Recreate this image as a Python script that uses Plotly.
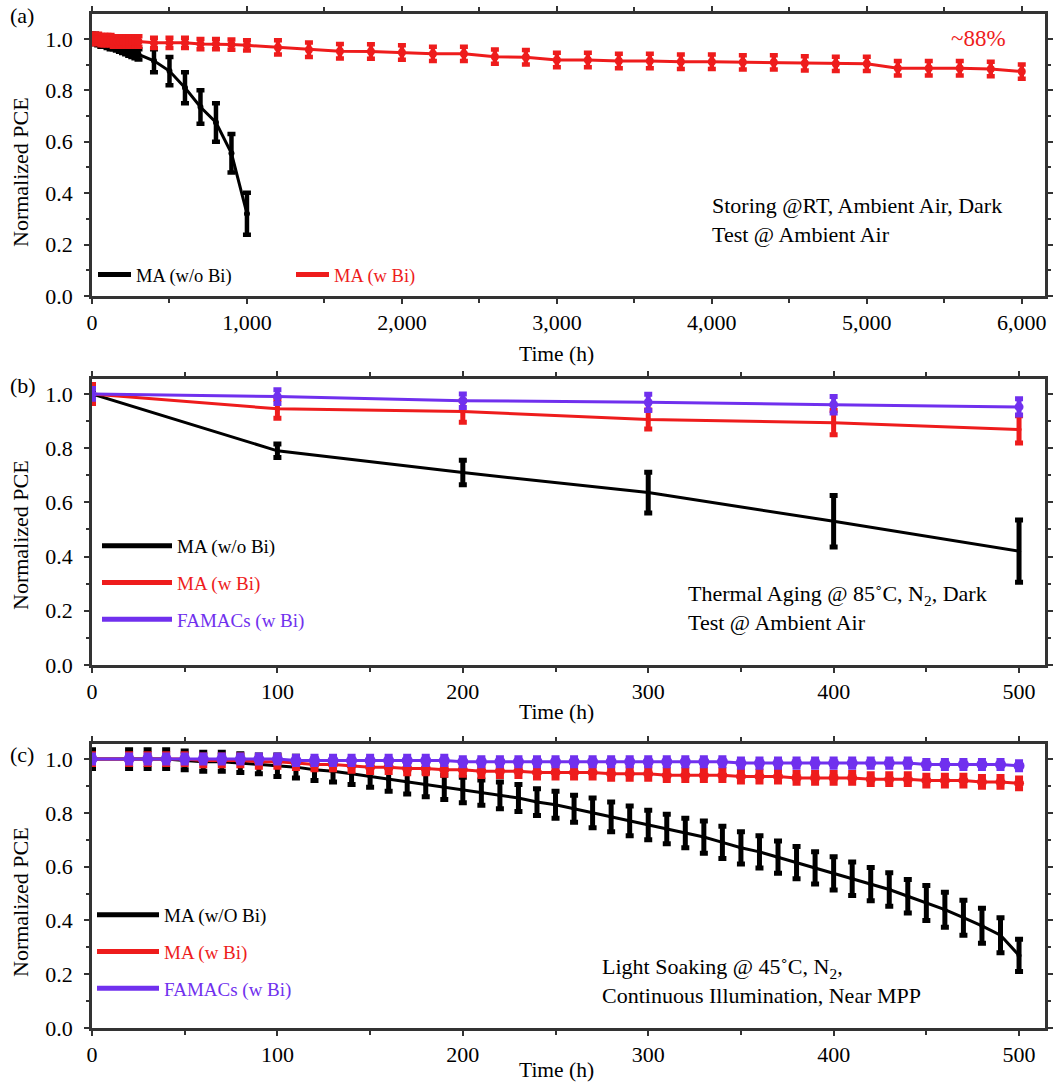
import plotly.graph_objects as go

# ---------------- data ----------------
# (a) Storing @RT, ambient air, dark
A_X_NOBI = [0, 20, 40, 60, 80, 100, 120, 140, 160, 180, 200, 220, 240, 260, 280, 300,
            400, 500, 600, 700, 800, 900, 1000]
A_Y_NOBI = [1.0, 1.0, 0.995, 0.99, 0.99, 0.985, 0.98, 0.98, 0.975, 0.97, 0.965, 0.96, 0.955, 0.95, 0.945, 0.94,
            0.915, 0.875, 0.81, 0.735, 0.675, 0.555, 0.32]
A_E_NOBI = [0.02, 0.02, 0.02, 0.02, 0.02, 0.02, 0.02, 0.02, 0.02, 0.02, 0.02, 0.02, 0.02, 0.02, 0.02, 0.02,
            0.045, 0.055, 0.06, 0.065, 0.075, 0.075, 0.082]

A_X_BI = [0, 20, 40, 60, 80, 100, 120, 140, 160, 180, 200, 220, 240, 260, 280, 300,
          400, 500, 600, 700, 800, 900, 1000,
          1200, 1400, 1600, 1800, 2000, 2200, 2400, 2600, 2800, 3000, 3200, 3400, 3600, 3800, 4000,
          4200, 4400, 4600, 4800, 5000, 5200, 5400, 5600, 5800, 6000]
A_Y_BI = [1.0, 1.0, 1.0, 0.995, 0.995, 0.995, 0.995, 0.99, 0.99, 0.99, 0.99, 0.99, 0.99, 0.99, 0.99, 0.99,
          0.985, 0.985, 0.985, 0.98, 0.98, 0.978, 0.975,
          0.967, 0.958, 0.952, 0.951, 0.947, 0.942, 0.942, 0.931, 0.929, 0.918, 0.918, 0.914, 0.914, 0.911, 0.911,
          0.909, 0.909, 0.905, 0.903, 0.903, 0.886, 0.886, 0.886, 0.883, 0.873]
A_E_BI = [0.02] * 23 + [0.028] * 25

# (b) Thermal aging @ 85 C
B_X = [0, 100, 200, 300, 400, 500]
B_Y_NOBI = [1.0, 0.79, 0.71, 0.636, 0.53, 0.42]
B_E_NOBI = [0.01, 0.025, 0.045, 0.075, 0.095, 0.115]
B_Y_BI = [1.0, 0.945, 0.935, 0.906, 0.894, 0.869]
B_E_BI = [0.035, 0.035, 0.04, 0.035, 0.045, 0.05]
B_Y_FA = [1.0, 0.99, 0.975, 0.969, 0.96, 0.952]
B_E_FA = [0.02, 0.025, 0.025, 0.03, 0.03, 0.03]

# (c) Light soaking @ 45 C
C_X = [0, 20, 30, 40, 50, 60, 70, 80, 90, 100, 110, 120, 130, 140, 150, 160, 170, 180, 190, 200,
       210, 220, 230, 240, 250, 260, 270, 280, 290, 300, 310, 320, 330, 340, 350, 360, 370, 380, 390, 400,
       410, 420, 430, 440, 450, 460, 470, 480, 490, 500]
C_Y_NOBI = [1.0, 1.0, 1.0, 1.0, 0.995, 0.99, 0.99, 0.985, 0.98, 0.975, 0.97, 0.96, 0.955, 0.945, 0.935, 0.925,
            0.915, 0.905, 0.895, 0.885, 0.875, 0.865, 0.855, 0.84, 0.83, 0.815, 0.8, 0.785, 0.77, 0.755,
            0.74, 0.725, 0.71, 0.69, 0.67, 0.655, 0.635, 0.615, 0.595, 0.575, 0.555, 0.535, 0.515, 0.49,
            0.465, 0.44, 0.41, 0.38, 0.345, 0.27]
C_E_NOBI = [0.035, 0.035, 0.035, 0.035, 0.035, 0.035, 0.035, 0.035, 0.035, 0.04, 0.04, 0.04, 0.04, 0.04, 0.04,
            0.045, 0.045, 0.045, 0.045, 0.047, 0.047, 0.05, 0.05, 0.05, 0.05, 0.05, 0.055, 0.055, 0.055, 0.055,
            0.055, 0.055, 0.06, 0.06, 0.06, 0.06, 0.06, 0.06, 0.06, 0.062, 0.062, 0.062, 0.062, 0.062, 0.065,
            0.065, 0.065, 0.065, 0.065, 0.06]
C_Y_BI = [1.0, 1.0, 1.0, 1.0, 1.0, 0.995, 0.995, 0.995, 0.99, 0.99, 0.985, 0.98, 0.98, 0.975, 0.97, 0.97,
          0.965, 0.965, 0.96, 0.96, 0.955, 0.955, 0.955, 0.95, 0.95, 0.95, 0.95, 0.945, 0.945, 0.945,
          0.94, 0.94, 0.94, 0.94, 0.935, 0.935, 0.935, 0.93, 0.93, 0.93, 0.93, 0.925, 0.925, 0.925,
          0.92, 0.92, 0.92, 0.915, 0.915, 0.91]
C_E_BI = [0.02] * 50
C_Y_FA = [1.0, 1.0, 1.0, 1.0, 1.0, 1.0, 1.0, 1.0, 1.0, 1.0, 0.995, 0.995, 0.995, 0.995, 0.995, 0.995,
          0.995, 0.995, 0.995, 0.99, 0.99, 0.99, 0.99, 0.99, 0.99, 0.99, 0.99, 0.99, 0.99, 0.99,
          0.99, 0.99, 0.99, 0.99, 0.985, 0.985, 0.985, 0.985, 0.985, 0.985, 0.985, 0.985, 0.985, 0.985,
          0.98, 0.98, 0.98, 0.98, 0.98, 0.975]
C_E_FA = [0.015] * 50

NAME_NOBI = "MA (w/o Bi)"
NAME_NOBI_C = "MA (w/O Bi)"
NAME_BI = "MA (w Bi)"
NAME_FA = "FAMACs (w Bi)"

# ---------------- style ----------------
BLACK = "#000000"
RED = "#ee1c1c"
PURPLE = "#7030ee"
AXC = "#333333"
FONT = "Liberation Serif"
W, H = 1054, 1083
ML, MR, MT, MB = 92, 9, 14, 55
PW, PH = W - ML - MR, H - MT - MB


def px(xp):
    return (xp - ML) / PW


def py(yp):
    return (H - MB - yp) / PH


fig = go.Figure()


def add(x, y, e, color, xa, ya, msize=5, lw=3, thick=4, cap=3.5):
    fig.add_trace(go.Scatter(
        x=x, y=y, mode="lines+markers", showlegend=False, hoverinfo="skip",
        line=dict(color=color, width=lw), marker=dict(color=color, size=msize),
        error_y=dict(type="data", array=e, color=color, thickness=thick, width=cap),
        xaxis=xa, yaxis=ya,
    ))


def leg(name, color, xa, ya, legend):
    fig.add_trace(go.Scatter(
        x=[None], y=[None], mode="lines", name=f'<span style="color:{color}">{name}</span>',
        line=dict(color=color, width=5), xaxis=xa, yaxis=ya, legend=legend,
        legendgroup=legend + name, showlegend=True,
    ))


# panel a
add(A_X_NOBI, A_Y_NOBI, A_E_NOBI, BLACK, "x", "y", msize=6, thick=4.5, cap=4)
add(A_X_BI, A_Y_BI, A_E_BI, RED, "x", "y", msize=8, thick=4.5, cap=4)
leg(NAME_NOBI, BLACK, "x", "y", "legend")
leg(NAME_BI, RED, "x", "y", "legend")
# panel b
add(B_X, B_Y_NOBI, B_E_NOBI, BLACK, "x2", "y2", msize=4, thick=5, cap=4)
add(B_X, B_Y_BI, B_E_BI, RED, "x2", "y2", msize=5, thick=5, cap=4)
add(B_X, B_Y_FA, B_E_FA, PURPLE, "x2", "y2", msize=9, thick=5, cap=4)
leg(NAME_NOBI, BLACK, "x2", "y2", "legend2")
leg(NAME_BI, RED, "x2", "y2", "legend2")
leg(NAME_FA, PURPLE, "x2", "y2", "legend2")
# panel c
add(C_X, C_Y_NOBI, C_E_NOBI, BLACK, "x3", "y3", msize=5, thick=5, cap=4)
add(C_X, C_Y_BI, C_E_BI, RED, "x3", "y3", msize=10, thick=5, cap=4)
add(C_X, C_Y_FA, C_E_FA, PURPLE, "x3", "y3", msize=11, thick=5, cap=4)
leg(NAME_NOBI_C, BLACK, "x3", "y3", "legend3")
leg(NAME_BI, RED, "x3", "y3", "legend3")
leg(NAME_FA, PURPLE, "x3", "y3", "legend3")

axis_common = dict(
    showline=True, linecolor=AXC, linewidth=2.5, mirror="allticks",
    ticks="outside", ticklen=5, tickwidth=2, tickcolor=AXC,
    showgrid=False, zeroline=False, automargin=False,
    tickfont=dict(family=FONT, size=22, color="black"),
)
xminor = dict(ticks="outside", ticklen=4, tickwidth=1.5, tickcolor=AXC)
yminor = dict(dtick=0.1, ticks="outside", ticklen=3, tickwidth=1.5, tickcolor=AXC)

doms = [(py(296), py(14)), (py(665), py(379)), (py(1028), py(744))]

fig.update_layout(
    width=W, height=H, margin=dict(l=ML, r=MR, t=MT, b=MB, autoexpand=False),
    paper_bgcolor="white", plot_bgcolor="white",
    font=dict(family=FONT, size=20, color="black"),
    xaxis=dict(axis_common, range=[0, 6150], dtick=1000, tickformat=",", anchor="y",
               ticklabelstandoff=0, minor=dict(xminor, dtick=500)),
    yaxis=dict(axis_common, range=[0, 1.097], dtick=0.2, tickformat=".1f", anchor="x", domain=doms[0],
               ticklabelstandoff=7, minor=yminor),
    xaxis2=dict(axis_common, range=[0, 514], dtick=100, anchor="y2",
                ticklabelstandoff=0, minor=dict(xminor, dtick=50)),
    yaxis2=dict(axis_common, range=[0, 1.055], dtick=0.2, tickformat=".1f", anchor="x2", domain=doms[1],
                ticklabelstandoff=7, minor=yminor),
    xaxis3=dict(axis_common, range=[0, 514], dtick=100, anchor="y3",
                ticklabelstandoff=0, minor=dict(xminor, dtick=50)),
    yaxis3=dict(axis_common, range=[0, 1.056], dtick=0.2, tickformat=".1f", anchor="x3", domain=doms[2],
                ticklabelstandoff=7, minor=yminor),
    legend=dict(orientation="h", x=px(93), y=py(275), xanchor="left", yanchor="middle",
                bgcolor="rgba(0,0,0,0)", itemwidth=33, entrywidth=150,
                font=dict(family=FONT, size=18.5)),
    legend2=dict(orientation="v", x=px(97), y=py(583), xanchor="left", yanchor="middle",
                 bgcolor="rgba(0,0,0,0)", itemwidth=70, tracegroupgap=9,
                 font=dict(family=FONT, size=19)),
    legend3=dict(orientation="v", x=px(92), y=py(952), xanchor="left", yanchor="middle",
                 bgcolor="rgba(0,0,0,0)", itemwidth=62, tracegroupgap=9,
                 font=dict(family=FONT, size=19)),
)

ann = []


def text(s, xp, yp, size=21, color="black", xanchor="center", yanchor="middle", angle=0, align="center"):
    ann.append(dict(text=s, x=px(xp), y=py(yp), xref="paper", yref="paper", showarrow=False,
                    xanchor=xanchor, yanchor=yanchor, textangle=angle, align=align,
                    font=dict(family=FONT, size=size, color=color)))


for lab, yy in [("(a)", 15), ("(b)", 385), ("(c)", 754)]:
    text(lab, 8, yy, size=22, xanchor="left")
for yy in [354, 712, 1070]:
    text("Time (h)", 556, yy, size=21.5)
for yy in [172, 535, 902]:
    text("Normalized PCE", 20, yy, size=22, angle=-90)
text("~88%", 978, 38, size=23, color=RED)
text("Storing @RT, Ambient Air, Dark<br>Test @ Ambient Air", 710, 220, size=22, xanchor="left", align="left")
text("Thermal Aging @ 85˚C, N<sub>2</sub>, Dark<br>Test @ Ambient Air", 686, 608, size=22,
     xanchor="left", align="left")
text("Light Soaking @ 45˚C, N<sub>2</sub>,<br>Continuous Illumination, Near MPP", 600, 981, size=22,
     xanchor="left", align="left")

fig.update_layout(annotations=ann)
fig.write_html("out.html", config={"displayModeBar": False},
               post_script="document.body.style.margin='0';document.body.style.overflow='hidden';")
